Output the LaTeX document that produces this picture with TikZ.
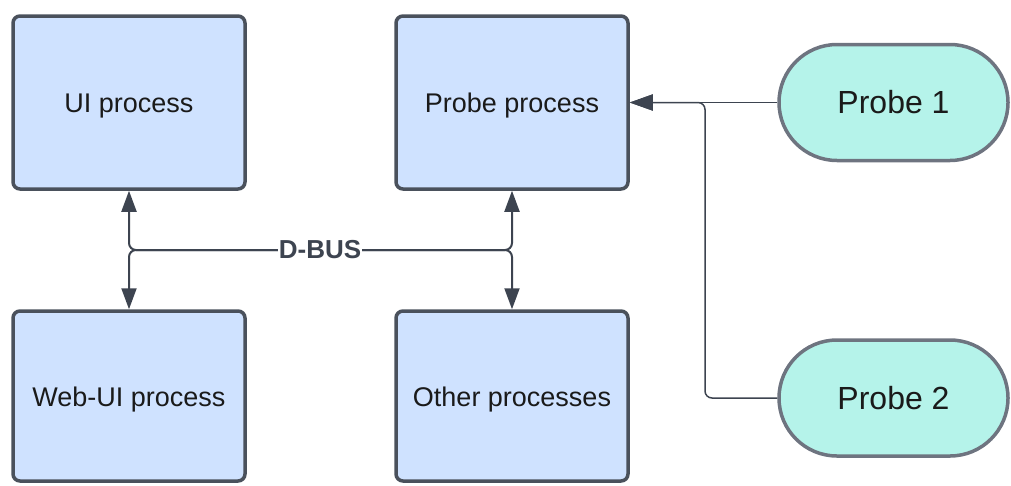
\documentclass[tikz,border=0pt]{standalone}
\usepackage{fontspec}
\setmainfont{Liberation Sans}
\usetikzlibrary{shapes.misc,arrows.meta}
\definecolor{boxfill}{RGB}{207,226,255}
\definecolor{boxline}{RGB}{74,81,92}
\definecolor{probefill}{RGB}{181,243,234}
\definecolor{probeline}{RGB}{110,116,128}
\definecolor{conn}{RGB}{61,68,80}
\definecolor{txt}{RGB}{26,26,26}
\tikzset{
  procbox/.style={draw=boxline, fill=boxfill, line width=3.5pt, rounded corners=7pt,
    minimum width=232pt, inner sep=0pt, text=txt, text height=20pt, text depth=0pt,
    font=\fontsize{27}{32}\selectfont},
  probebox/.style={rounded rectangle, draw=probeline, fill=probefill, line width=3.5pt,
    minimum width=229pt, minimum height=116pt, inner sep=0pt, text=txt,
    font=\fontsize{32}{38}\selectfont},
  bus/.style={draw=conn, line width=2pt, rounded corners=7pt,
    {Triangle[length=21pt,width=15pt]}-{Triangle[length=21pt,width=15pt]}},
  plink/.style={draw=conn, line width=1.5pt, rounded corners=7pt,
    -{Triangle[length=23pt,width=16pt]}},
  buslabel/.style={fill=white, inner sep=1pt, text=conn,
    font=\bfseries\fontsize{26}{30}\selectfont}
}
\begin{document}
\begin{tikzpicture}[x=1pt,y=-1pt]
\useasboundingbox (0,0) rectangle (1011,485);
\node[procbox, minimum height=173pt] (ui) at (129,102.5) {UI process};
\node[procbox, minimum height=173pt] (probe) at (512,102.5) {Probe process};
\node[procbox, minimum height=170pt] (webui) at (129,396) {Web-UI process};
\node[procbox, minimum height=170pt] (other) at (512,396) {Other processes};
\node[probebox] (p1) at (893.5,102.5) {Probe 1};
\node[probebox] (p2) at (893.5,398) {Probe 2};
\coordinate (busR) at (512,250);
\coordinate (j2) at (705,398);
\draw[bus] (ui.south) |- (busR) -- (probe.south);
\draw[bus] (webui.north) |- (busR) -- (other.north);
\node[buslabel] (dbus) at (320,250) {D-BUS};
\draw[plink] (p1.west) -- (probe.east);
\draw[plink] (p2.west) -- (j2) |- (probe.east);
\end{tikzpicture}
\end{document}
